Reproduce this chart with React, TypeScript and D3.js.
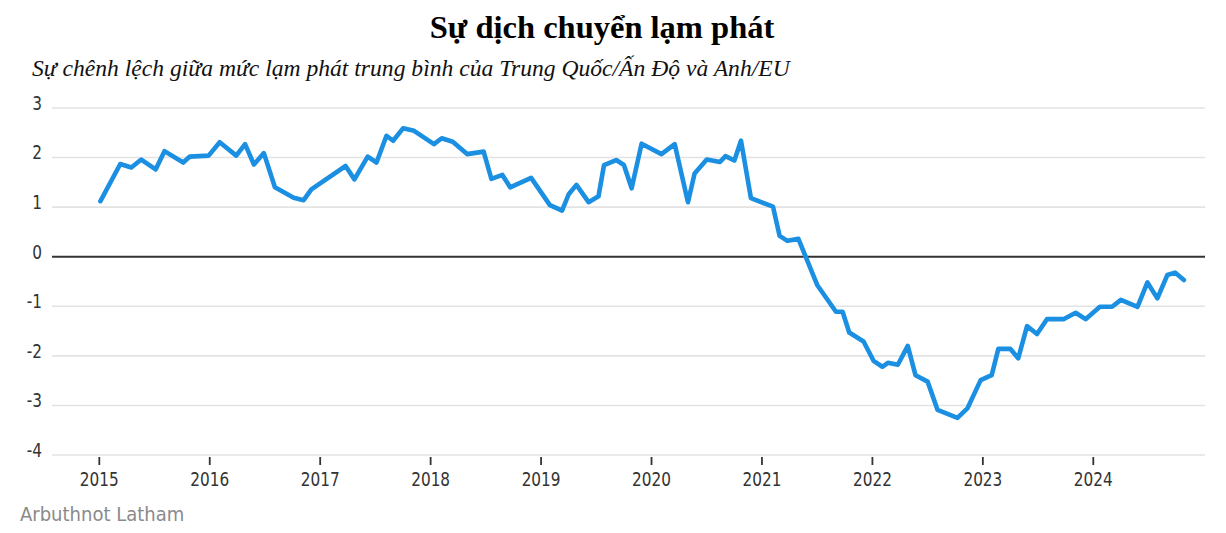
import React from "react";
import * as d3 from "d3";

const title = "Sự dịch chuyển lạm phát";
const subtitle = "Sự chênh lệch giữa mức lạm phát trung bình của Trung Quốc/Ấn Độ và Anh/EU";
const source = "Arbuthnot Latham";

const yTicks = [3, 2, 1, 0, -1, -2, -3, -4];
const xTicks = [2015, 2016, 2017, 2018, 2019, 2020, 2021, 2022, 2023, 2024];

// decimal year of each observation
const dates = [
  2015.01, 2015.19, 2015.29, 2015.38, 2015.51, 2015.59, 2015.76, 2015.82, 2015.99, 2016.09,
  2016.24, 2016.32, 2016.40, 2016.49, 2016.59, 2016.76, 2016.85, 2016.92, 2017.23, 2017.31,
  2017.43, 2017.51, 2017.60, 2017.66, 2017.75, 2017.85, 2018.03, 2018.10, 2018.20, 2018.33,
  2018.48, 2018.55, 2018.65, 2018.72, 2018.91, 2019.08, 2019.19, 2019.25, 2019.32, 2019.43,
  2019.52, 2019.57, 2019.68, 2019.75, 2019.82, 2019.91, 2020.09, 2020.21, 2020.33, 2020.39,
  2020.50, 2020.62, 2020.67, 2020.75, 2020.81, 2020.90, 2021.10, 2021.16, 2021.23, 2021.33,
  2021.50, 2021.67, 2021.73, 2021.79, 2021.92, 2022.01, 2022.09, 2022.14, 2022.23, 2022.32,
  2022.39, 2022.50, 2022.59, 2022.77, 2022.86, 2022.98, 2023.08, 2023.14, 2023.25, 2023.32,
  2023.40, 2023.49, 2023.58, 2023.73, 2023.84, 2023.93, 2024.06, 2024.17, 2024.25, 2024.40,
  2024.49, 2024.58, 2024.67, 2024.74, 2024.82,
];

// inflation gap, percentage points
const values = [
  1.12, 1.87, 1.80, 1.96, 1.76, 2.13, 1.90, 2.02, 2.04, 2.31,
  2.04, 2.27, 1.86, 2.09, 1.40, 1.19, 1.14, 1.36, 1.83, 1.56,
  2.02, 1.90, 2.44, 2.34, 2.59, 2.54, 2.27, 2.39, 2.32, 2.07,
  2.12, 1.57, 1.65, 1.40, 1.59, 1.04, 0.93, 1.26, 1.45, 1.10,
  1.22, 1.85, 1.95, 1.85, 1.38, 2.28, 2.07, 2.27, 1.10, 1.68,
  1.96, 1.91, 2.03, 1.94, 2.34, 1.18, 1.01, 0.42, 0.32, 0.36,
  -0.57, -1.11, -1.11, -1.53, -1.71, -2.10, -2.22, -2.14, -2.18, -1.80,
  -2.39, -2.52, -3.09, -3.25, -3.06, -2.49, -2.39, -1.86, -1.86, -2.05,
  -1.40, -1.56, -1.26, -1.26, -1.13, -1.26, -1.01, -1.01, -0.87, -1.01,
  -0.52, -0.84, -0.37, -0.32, -0.47,
];

const W = 1226;
const H = 533;
const gridLeft = 52;
const gridRight = 1205;

export default function App() {
  const x = d3.scaleLinear().domain([2015, 2024]).range([99.3, 1093.3]);
  const y = d3.scaleLinear().domain([-4, 3]).range([455, 108]);
  const pts: [number, number][] = dates.map((d, i) => [d, values[i]]);
  const line = d3
    .line<[number, number]>()
    .x((d) => x(d[0]))
    .y((d) => y(d[1]))
    .curve(d3.curveLinear);

  const narrow = "'DejaVu Sans Condensed', 'DejaVu Sans', sans-serif";

  return (
    <svg
      width={W}
      height={H}
      viewBox={`0 0 ${W} ${H}`}
      style={{ position: "absolute", left: 0, top: 0, background: "#fff" }}
    >
      <rect x={0} y={0} width={W} height={H} fill="#fff" />
      <text
        x={602}
        y={38}
        textAnchor="middle"
        fontFamily="'Liberation Serif', 'Times New Roman', serif"
        fontWeight="bold"
        fontSize={32.5}
        fill="#000"
      >
        {title}
      </text>
      <text
        x={32}
        y={76}
        fontFamily="'Liberation Serif', 'Times New Roman', serif"
        fontStyle="italic"
        fontSize={23.6}
        fill="#111"
      >
        {subtitle}
      </text>

      {yTicks.map((t) => (
        <g key={t}>
          {t !== 0 && (
            <line
              x1={gridLeft}
              x2={gridRight}
              y1={y(t)}
              y2={y(t)}
              stroke="#e3e3e3"
              strokeWidth={1.6}
            />
          )}
          <g transform={`translate(42,${y(t) - 4}) scale(0.85,1)`}>
            <text
              x={0}
              y={0}
              textAnchor="end"
              dominantBaseline="middle"
              fontFamily={narrow}
              fontSize={20}
              fill="#333"
            >
              {t}
            </text>
          </g>
        </g>
      ))}
      <line
        x1={gridLeft}
        x2={gridRight}
        y1={y(0)}
        y2={y(0)}
        stroke="#333"
        strokeWidth={2}
      />

      {xTicks.map((t) => (
        <g key={t}>
          <line x1={x(t)} x2={x(t)} y1={457} y2={465} stroke="#333" strokeWidth={1.8} />
          <g transform={`translate(${x(t)},480) scale(0.85,1)`}>
            <text
              x={0}
              y={0}
              textAnchor="middle"
              dominantBaseline="middle"
              fontFamily={narrow}
              fontSize={20}
              fill="#333"
            >
              {t}
            </text>
          </g>
        </g>
      ))}

      <path
        d={line(pts) ?? ""}
        fill="none"
        stroke="#1b8fe1"
        strokeWidth={4.6}
        strokeLinejoin="round"
        strokeLinecap="round"
      />

      <text x={20} y={515} dominantBaseline="middle" fontFamily={narrow} fontSize={20} fill="#8a8a8a">
        {source}
      </text>
    </svg>
  );
}
